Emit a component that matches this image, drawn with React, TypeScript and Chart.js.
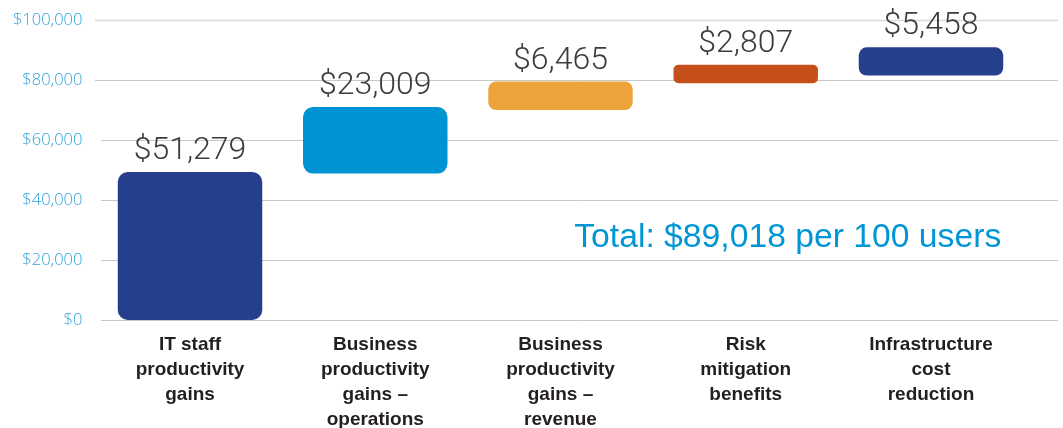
import React, { useEffect, useRef } from "react";
import { Chart, registerables } from "chart.js";

Chart.register(...registerables);

const categories: string[][] = [
  ["IT staff", "productivity", "gains"],
  ["Business", "productivity", "gains –", "operations"],
  ["Business", "productivity", "gains –", "revenue"],
  ["Risk", "mitigation", "benefits"],
  ["Infrastructure", "cost", "reduction"],
];
const benefitValues = [51279, 23009, 6465, 2807, 5458];
const barStart = [0, 48800, 70000, 78900, 81500];
const barEnd = [49300, 71000, 79500, 85100, 90900];
const barColors = ["#263f8d", "#0093d3", "#eca33b", "#c44f1b", "#263f8d"];
const barRadius = [10, 10, 8, 5, 8];
const yTicks = [0, 20000, 40000, 60000, 80000, 100000];
const totalText = "Total: $89,018 per 100 users";
const totalAnchor = { category: 3, value: 24500 };

const fmt = (v: number) => "$" + v.toLocaleString("en-US");

const gridPlugin = {
  id: "customGrid",
  beforeDatasetsDraw(chart: any) {
    const { ctx } = chart;
    const y = chart.scales.y;
    ctx.save();
    yTicks.forEach((t) => {
      const py = Math.round(y.getPixelForValue(t)) + 0.5;
      ctx.beginPath();
      ctx.strokeStyle = t === 100000 ? "#dadada" : "#c8c8c8";
      ctx.lineWidth = t === 100000 ? 1.5 : 1;
      ctx.moveTo(t >= 80000 ? 95 : 101, py);
      ctx.lineTo(chart.width - 5, py);
      ctx.stroke();
    });
    ctx.restore();
  },
};

const labelPlugin = {
  id: "valueLabels",
  afterDatasetsDraw(chart: any) {
    const { ctx } = chart;
    const meta = chart.getDatasetMeta(0);
    ctx.save();
    ctx.font = "300 32px Roboto, 'Liberation Sans', sans-serif";
    ctx.fillStyle = "#3c3c3c";
    ctx.textAlign = "center";
    ctx.textBaseline = "alphabetic";
    meta.data.forEach((bar: any, i: number) => {
      const top = Math.min(bar.y, bar.base);
      ctx.fillText(fmt(benefitValues[i]), bar.x, top - 13);
    });
    const xs = chart.scales.x;
    const ys = chart.scales.y;
    ctx.font = "33.7px 'Liberation Sans', Arial, sans-serif";
    ctx.fillStyle = "#0096d6";
    ctx.fillText(
      totalText,
      xs.getPixelForValue(totalAnchor.category) + 42,
      ys.getPixelForValue(totalAnchor.value)
    );
    ctx.restore();
  },
};

export default function App() {
  const ref = useRef<HTMLCanvasElement>(null);
  useEffect(() => {
    if (!ref.current) return;
    const chart = new Chart(ref.current, {
      type: "bar",
      data: {
        labels: categories as any,
        datasets: [
          {
            data: barStart.map((s, i) => [s, barEnd[i]]) as any,
            backgroundColor: barColors,
            borderRadius: barRadius,
            borderSkipped: false,
            categoryPercentage: 1,
            barPercentage: 0.78,
          },
        ],
      },
      options: {
        animation: false,
        responsive: true,
        maintainAspectRatio: false,
        layout: { padding: { top: 20, right: 39.4, left: 0, bottom: 0 } },
        plugins: { legend: { display: false }, tooltip: { enabled: false } },
        scales: {
          x: {
            grid: { display: false, drawTicks: false },
            border: { display: false },
            ticks: {
              autoSkip: false,
              maxRotation: 0,
              padding: 12,
              color: "#231f20",
              font: { family: "'Liberation Sans', Arial, sans-serif", size: 19, weight: "bold", lineHeight: 1.316 },
            },
            afterFit(scale: any) {
              scale.height = 108;
              scale.paddingLeft = 0;
              scale.paddingRight = 0;
            },
          },
          y: {
            min: 0,
            max: 100000,
            grid: { display: false, drawTicks: false },
            border: { display: false },
            ticks: {
              stepSize: 20000,
              padding: 15,
              color: "#2ea3dc",
              font: { family: "'Open Sans', sans-serif", size: 16.5, weight: "300" },
              callback: (v: any) => fmt(Number(v)),
            },
            afterFit(scale: any) {
              scale.width = 97.4;
              scale.paddingTop = 0;
              scale.paddingBottom = 0;
            },
          },
        },
      },
      plugins: [gridPlugin, labelPlugin],
    });
    return () => chart.destroy();
  }, []);
  return (
    <div style={{ position: "absolute", left: 0, top: 0, width: 1063, height: 428, background: "#fff" }}>
      <canvas ref={ref} />
    </div>
  );
}
